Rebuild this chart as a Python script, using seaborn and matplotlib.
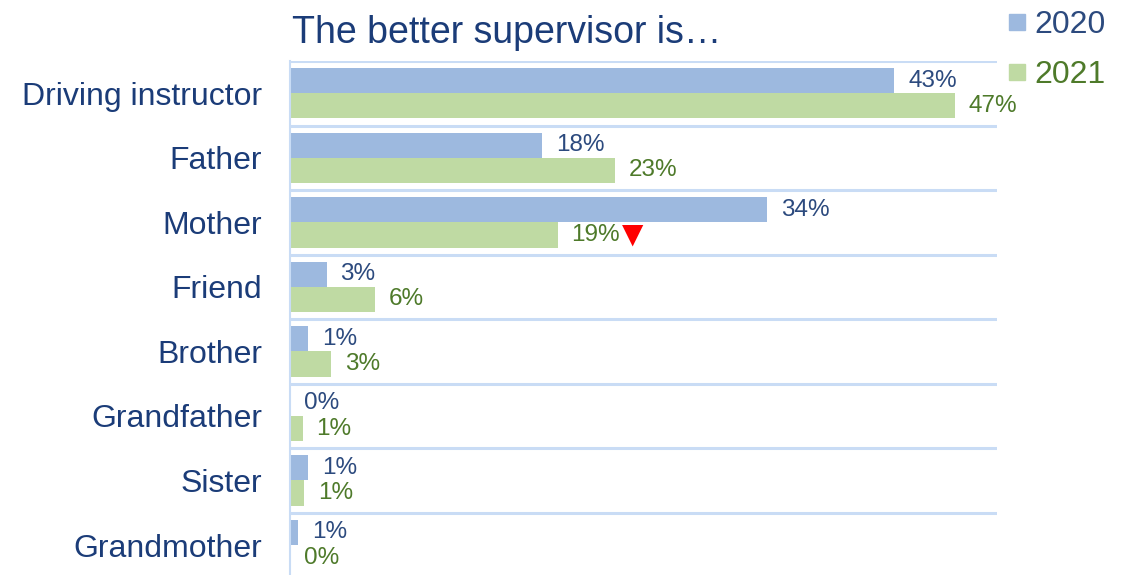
import pandas as pd
import matplotlib.pyplot as plt
import seaborn as sns
from matplotlib.lines import Line2D

sns.set_theme(style='white')
plt.rcParams['font.family'] = ['Liberation Sans', 'DejaVu Sans']

categories = ['Driving instructor', 'Father', 'Mother', 'Friend', 'Brother',
              'Grandfather', 'Sister', 'Grandmother']
years = ['2020', '2021']
share_2020 = [42.9, 17.9, 33.9, 2.6, 1.3, 0.0, 1.3, 0.6]
share_2021 = [47.2, 23.1, 19.0, 6.0, 2.9, 0.9, 1.0, 0.0]
title = 'The better supervisor is…'

bar_colors = ['#9DB9DF', '#BFDAA3']
text_colors = ['#2C4A7E', '#4E7A2A']
label_color = '#1B3C78'
grid_color = '#C9DCF5'

df = pd.DataFrame({'category': categories * 2,
                   'year': [years[0]] * len(categories) + [years[1]] * len(categories),
                   'share': share_2020 + share_2021})

fig = plt.figure(figsize=(11.27, 5.75), dpi=100)
ax = fig.add_axes([290 / 1127, -0.004, (997 - 290) / 1127, 1 - 61 / 575 + 0.004])

sns.barplot(data=df, y='category', x='share', hue='year', orient='h',
            palette=bar_colors, width=0.78, ax=ax, legend=False, saturation=1,
            linewidth=0)

ax.set_xlim(0, 50.2)
ax.set_ylim(len(categories) - 0.5, -0.5)

# separators between categories
for b in range(len(categories) + 1):
    ax.axhline(b - 0.5, color=grid_color, lw=2.2, zorder=0)

for side in ['top', 'right', 'bottom']:
    ax.spines[side].set_visible(False)
ax.spines['left'].set_color(grid_color)
ax.spines['left'].set_linewidth(1.5)

ax.set_xticks([])
ax.set_xlabel('')
ax.set_ylabel('')
ax.tick_params(axis='y', length=0, pad=20, labelsize=23, labelcolor=label_color)

# value labels
for cont, col in zip(ax.containers, text_colors):
    ax.bar_label(cont, labels=[f'{b.get_width():.0f}%' for b in cont],
                 padding=10, fontsize=17.5, color=col)

# drop marker next to Mother 2021
mother_idx = categories.index('Mother')
ax.annotate('▼', xy=(share_2021[mother_idx], mother_idx + 0.19),
            xytext=(54, 0), textcoords='offset points',
            ha='center', va='center', color='#FF0000', fontsize=20,
            family='DejaVu Sans')

fig.text(292 / 1127, 1 - 43 / 575, title, fontsize=27, color=label_color,
         va='baseline', ha='left')

handles = [Line2D([0], [0], marker='s', ls='', markersize=12,
                  markerfacecolor=c, markeredgecolor=c) for c in bar_colors]
leg = fig.legend(handles, years, loc='upper left', bbox_to_anchor=(985 / 1127, 1.022),
                 frameon=False, fontsize=23, handlelength=0.6, handletextpad=0.25,
                 labelspacing=0.65, borderpad=0.2, labelcolor=text_colors)

fig.savefig('out.png', dpi=100)
